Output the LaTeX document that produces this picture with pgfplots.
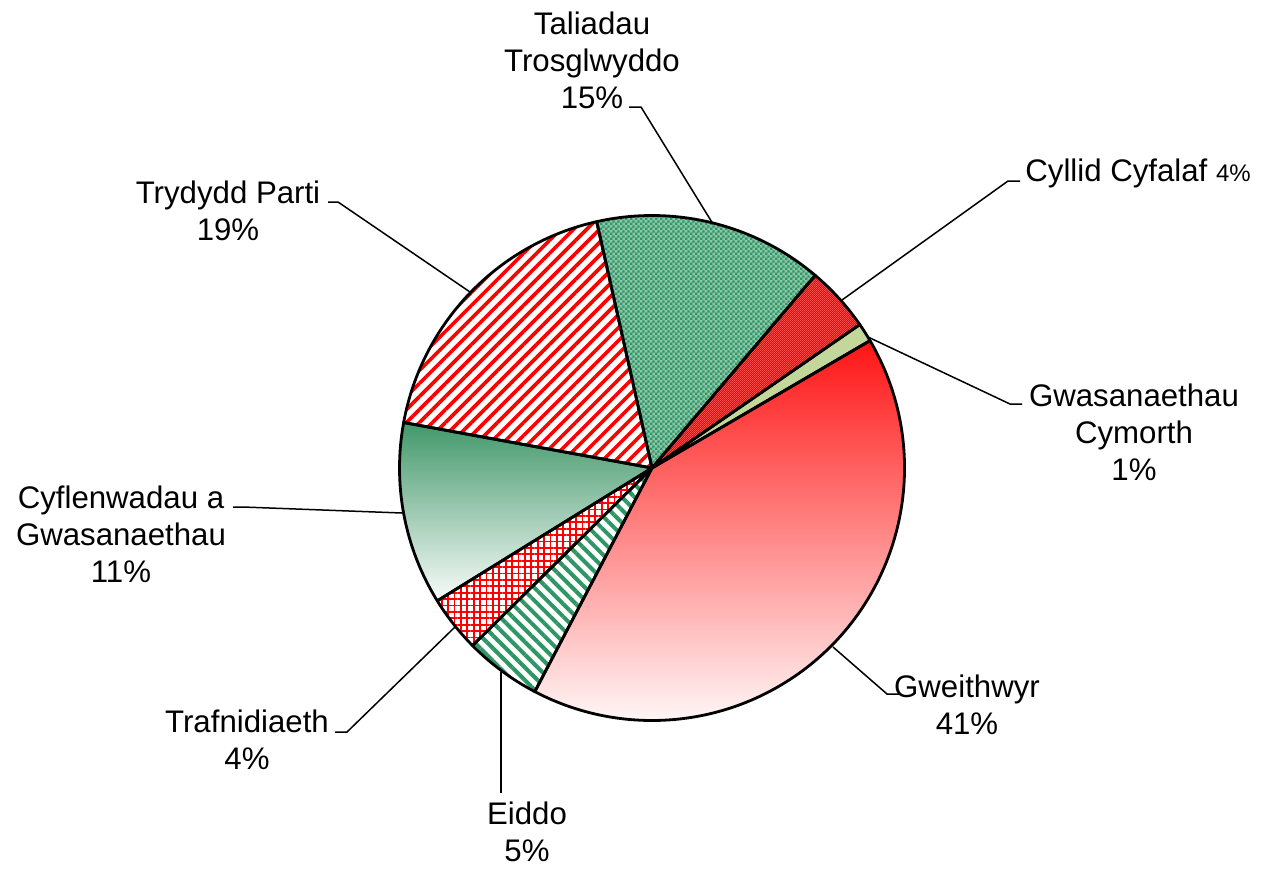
\documentclass[border=0pt]{standalone}
\usepackage{pgfplots}
\pgfplotsset{compat=1.18}
\usepackage{fontspec}
\setmainfont{Liberation Sans}
\usetikzlibrary{patterns,patterns.meta}

\definecolor{xgreen}{RGB}{46,150,100}
\definecolor{gradgreen}{RGB}{66,152,106}
\definecolor{lightgreen}{RGB}{196,215,155}
\definecolor{xred}{RGB}{255,0,0}

% coarse checker (Taliadau Trosglwyddo)
\pgfdeclarepatternformonly{checkA}{\pgfpointorigin}{\pgfpoint{2.4pt}{2.4pt}}{\pgfpoint{2.4pt}{2.4pt}}{%
  \pgfpathrectangle{\pgfpointorigin}{\pgfpoint{1.2pt}{1.2pt}}%
  \pgfpathrectangle{\pgfpoint{1.2pt}{1.2pt}}{\pgfpoint{1.2pt}{1.2pt}}%
  \pgfusepath{fill}}
% fine checker (Cyllid Cyfalaf)
\pgfdeclarepatternformonly{checkB}{\pgfpointorigin}{\pgfpoint{1.2pt}{1.2pt}}{\pgfpoint{1.2pt}{1.2pt}}{%
  \pgfpathrectangle{\pgfpointorigin}{\pgfpoint{0.6pt}{0.6pt}}%
  \pgfpathrectangle{\pgfpoint{0.6pt}{0.6pt}}{\pgfpoint{0.6pt}{0.6pt}}%
  \pgfusepath{fill}}

% ---- data: share of total (%), clockwise from the start angle ----
\def\startangle{30.3}
\def\vGweithwyr{41.1}
\def\vEiddo{4.9}
\def\vTrafnidiaeth{3.6}
\def\vCyflenwadau{11.7}
\def\vTrydydd{18.6}
\def\vTaliadau{14.7}
\def\vCyllid{4.2}
\def\vCymorth{1.1}

\pgfmathsetmacro\aA{\startangle}
\pgfmathsetmacro\aB{\aA-3.6*\vGweithwyr}
\pgfmathsetmacro\aC{\aB-3.6*\vEiddo}
\pgfmathsetmacro\aD{\aC-3.6*\vTrafnidiaeth}
\pgfmathsetmacro\aE{\aD-3.6*\vCyflenwadau}
\pgfmathsetmacro\aF{\aE-3.6*\vTrydydd}
\pgfmathsetmacro\aG{\aF-3.6*\vTaliadau}
\pgfmathsetmacro\aH{\aG-3.6*\vCyllid}
\pgfmathsetmacro\aI{\startangle-360}

\def\R{126.25pt}
\newcommand{\sectorpath}[2]{(axis cs:652,468) -- ++(#1:\R) arc[start angle=#1,end angle=#2,radius=\R] -- cycle}

\begin{document}
\begin{tikzpicture}[every node/.style={font=\fontsize{15.6}{18.5}\selectfont, inner sep=0pt}]
\begin{axis}[scale only axis, width=640pt, height=434pt,
  xmin=0, xmax=1280, ymin=0, ymax=868, y dir=reverse,
  hide axis, clip=false]
\path (axis cs:0,0) rectangle (axis cs:1280,868);

% Gweithwyr
\shade[top color=xred!92, bottom color=xred!1] \sectorpath{\aA}{\aB};
% Eiddo
\fill[white] \sectorpath{\aB}{\aC};
\fill[pattern={Lines[angle=-45,distance=4.5pt,line width=2pt]}, pattern color=xgreen] \sectorpath{\aB}{\aC};
% Trafnidiaeth
\fill[white] \sectorpath{\aC}{\aD};
\fill[pattern={Hatch[angle=0,distance=3.2pt,line width=0.9pt]}, pattern color=xred] \sectorpath{\aC}{\aD};
% Cyflenwadau a Gwasanaethau
\shade[top color=gradgreen, bottom color=gradgreen!3] \sectorpath{\aD}{\aE};
% Trydydd Parti
\fill[white] \sectorpath{\aE}{\aF};
\fill[pattern={Lines[angle=45,distance=4.6pt,line width=1.8pt]}, pattern color=xred] \sectorpath{\aE}{\aF};
% Taliadau Trosglwyddo
\fill[xgreen!55] \sectorpath{\aF}{\aG};
\fill[pattern=checkA, pattern color=xgreen] \sectorpath{\aF}{\aG};
% Cyllid Cyfalaf
\fill[xred!65] \sectorpath{\aG}{\aH};
\fill[pattern=checkB, pattern color=xred] \sectorpath{\aG}{\aH};
% Gwasanaethau Cymorth
\fill[lightgreen] \sectorpath{\aH}{\aI};

% outlines
\draw[line width=1.4pt, line join=round] \sectorpath{\aA}{\aB};
\draw[line width=1.4pt, line join=round] \sectorpath{\aB}{\aC};
\draw[line width=1.4pt, line join=round] \sectorpath{\aC}{\aD};
\draw[line width=1.4pt, line join=round] \sectorpath{\aD}{\aE};
\draw[line width=1.4pt, line join=round] \sectorpath{\aE}{\aF};
\draw[line width=1.4pt, line join=round] \sectorpath{\aF}{\aG};
\draw[line width=1.4pt, line join=round] \sectorpath{\aG}{\aH};
\draw[line width=1.4pt, line join=round] \sectorpath{\aH}{\aI};

% leader lines
\draw[line width=0.75pt] (axis cs:629,107) -- (axis cs:641,107) -- (axis cs:713,224);
\draw[line width=0.75pt] (axis cs:1020,181) -- (axis cs:1008,181) -- (axis cs:842,300);
\draw[line width=0.75pt] (axis cs:1022,404) -- (axis cs:1010,404) -- (axis cs:868,337);
\draw[line width=0.75pt] (axis cs:899,694) -- (axis cs:887,694) -- (axis cs:833,647);
\draw[line width=0.75pt] (axis cs:501,793) -- (axis cs:501,672);
\draw[line width=0.75pt] (axis cs:335,732) -- (axis cs:347,732) -- (axis cs:456,626);
\draw[line width=0.75pt] (axis cs:328,202) -- (axis cs:338,202) -- (axis cs:470,292);
\draw[line width=0.75pt] (axis cs:233,507) -- (axis cs:243,507) -- (axis cs:402,513);

% labels
\node[align=center] at (axis cs:592,60) {Taliadau\\Trosglwyddo\\15\%};
\node[anchor=base west] at (axis cs:1025,181) {Cyllid Cyfalaf {\fontsize{12}{14}\selectfont 4\%}};
\node[align=center] at (axis cs:1134,432) {Gwasanaethau\\Cymorth\\1\%};
\node[align=center] at (axis cs:967,705) {Gweithwyr\\41\%};
\node[align=center] at (axis cs:527,832) {Eiddo\\5\%};
\node[align=center] at (axis cs:247,740) {Trafnidiaeth\\4\%};
\node[align=center] at (axis cs:121,534) {Cyflenwadau a\\Gwasanaethau\\11\%};
\node[align=center] at (axis cs:228,211) {Trydydd Parti\\19\%};
\end{axis}
\end{tikzpicture}
\end{document}
